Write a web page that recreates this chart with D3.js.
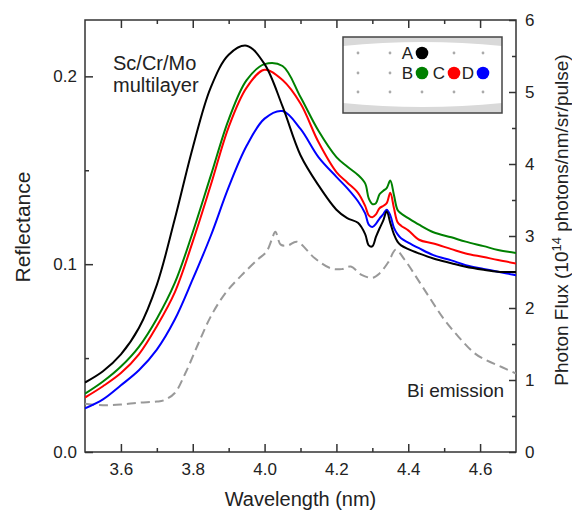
<!DOCTYPE html>
<html>
<head>
<meta charset="utf-8">
<script src="https://cdn.jsdelivr.net/npm/d3@7"></script>
<style>
  body { margin: 0; background: #fff; }
  svg { display: block; font-family: 'Liberation Sans', Arial, sans-serif; }
</style>
</head>
<body>
<div id="d3-container"></div>
<script>
// CONST and GLOBALS
const width = 572,
  height = 511,
  margin = { top: 20, bottom: 59, left: 85, right: 56 };

// DATA
const wavelength = [3.50, 3.55, 3.60, 3.65, 3.70, 3.75, 3.80, 3.85, 3.90, 3.95, 4.00, 4.05, 4.10, 4.15, 4.20,
  4.23, 4.26, 4.28, 4.29, 4.30, 4.31, 4.32, 4.33, 4.34, 4.35, 4.36, 4.37, 4.38, 4.40, 4.43, 4.47, 4.52, 4.56,
  4.61, 4.65, 4.70];

const reflectanceA = [0.037, 0.043, 0.052, 0.066, 0.089, 0.124, 0.162, 0.194, 0.2115, 0.2163, 0.2065, 0.184, 0.158,
  0.142, 0.129, 0.1245, 0.122, 0.116, 0.110, 0.1095, 0.1145, 0.119, 0.123, 0.128, 0.122, 0.116, 0.112, 0.110,
  0.108, 0.1057, 0.103, 0.1005, 0.0986, 0.097, 0.096, 0.0958];

const reflectanceB = [0.031, 0.0375, 0.0455, 0.056, 0.071, 0.090, 0.117, 0.147, 0.177, 0.198, 0.2065, 0.2055,
  0.189, 0.171, 0.157, 0.152, 0.1475, 0.143, 0.135, 0.132, 0.1325, 0.1372, 0.139, 0.1405, 0.1445, 0.137, 0.129,
  0.127, 0.1245, 0.121, 0.117, 0.1143, 0.112, 0.1096, 0.1076, 0.106];

const reflectanceC = [0.029, 0.035, 0.042, 0.052, 0.067, 0.085, 0.112, 0.142, 0.173, 0.194, 0.2035, 0.198,
  0.1855, 0.165, 0.149, 0.1435, 0.138, 0.131, 0.126, 0.125, 0.1265, 0.1298, 0.131, 0.1325, 0.138, 0.130, 0.1225,
  0.1205, 0.118, 0.113, 0.111, 0.108, 0.1057, 0.1038, 0.1022, 0.1004];

const reflectanceD = [0.0232, 0.028, 0.0355, 0.0435, 0.0545, 0.0705, 0.092, 0.115, 0.141, 0.163, 0.1775, 0.1815,
  0.172, 0.157, 0.1465, 0.1405, 0.1335, 0.127, 0.121, 0.1198, 0.1215, 0.1243, 0.1265, 0.129, 0.126, 0.1195,
  0.116, 0.1138, 0.1115, 0.1085, 0.1048, 0.102, 0.0995, 0.0975, 0.096, 0.0941];

const biWavelength = [3.50, 3.55, 3.60, 3.65, 3.70, 3.72, 3.75, 3.78, 3.815, 3.85, 3.89, 3.935, 3.98, 4.005,
  4.02, 4.03, 4.045, 4.065, 4.09, 4.14, 4.185, 4.215, 4.24, 4.27, 4.30, 4.32, 4.345, 4.365, 4.39, 4.43, 4.465,
  4.50, 4.54, 4.585, 4.615, 4.66, 4.70];
const biFlux = [0.67, 0.65, 0.66, 0.685, 0.70, 0.72, 0.82, 1.10, 1.50, 1.88, 2.20, 2.45, 2.67, 2.78, 2.95, 3.06,
  2.88, 2.87, 2.92, 2.69, 2.55, 2.54, 2.575, 2.46, 2.42, 2.48, 2.64, 2.81, 2.67, 2.37, 2.10, 1.84, 1.60, 1.37,
  1.28, 1.18, 1.09];

const sampleLabels = ['A', 'B', 'C', 'D'];
const sampleColors = ['#000000', '#008000', '#ff0000', '#0000ff'];

const reflTicks = [0, 0.1, 0.2];
const reflMinor = [0.05, 0.15];
const fluxTicks = [0, 1, 2, 3, 4, 5, 6];
const fluxMinor = [0.5, 1.5, 2.5, 3.5, 4.5, 5.5];
const wlTicks = [3.6, 3.8, 4.0, 4.2, 4.4, 4.6];
const wlMinor = [3.7, 3.9, 4.1, 4.3, 4.5];

let svg;
let xScale;
let yScale;
let y2Scale;

function init() {
  // SCALES
  xScale = d3.scaleLinear().domain([3.5, 4.7]).range([margin.left, width - margin.right]);
  yScale = d3.scaleLinear().domain([0, 0.23]).range([height - margin.bottom, margin.top]);
  y2Scale = d3.scaleLinear().domain([0, 6]).range([height - margin.bottom, margin.top]);

  svg = d3.select('#d3-container').append('svg').attr('width', width).attr('height', height);

  svg.append('clipPath').attr('id', 'plot-clip')
    .append('rect')
    .attr('x', margin.left).attr('y', margin.top)
    .attr('width', width - margin.left - margin.right)
    .attr('height', height - margin.top - margin.bottom);

  const bottom = height - margin.bottom;
  const right = width - margin.right;

  // AXES (ticks point inwards)
  const axes = [
    [d3.axisBottom(xScale).tickValues(wlTicks).tickSize(-8).tickPadding(11).tickFormat(d3.format('.1f')), `translate(0,${bottom})`],
    [d3.axisBottom(xScale).tickValues(wlMinor).tickSize(-4).tickFormat(''), `translate(0,${bottom})`],
    [d3.axisTop(xScale).tickValues(wlTicks).tickSize(-8).tickFormat(''), `translate(0,${margin.top})`],
    [d3.axisTop(xScale).tickValues(wlMinor).tickSize(-4).tickFormat(''), `translate(0,${margin.top})`],
    [d3.axisLeft(yScale).tickValues(reflTicks).tickSize(-8).tickPadding(8).tickFormat(d3.format('.1f')), `translate(${margin.left},0)`],
    [d3.axisLeft(yScale).tickValues(reflMinor).tickSize(-4).tickFormat(''), `translate(${margin.left},0)`],
    [d3.axisRight(y2Scale).tickValues(fluxTicks).tickSize(-7).tickPadding(9).tickFormat(d3.format('d')), `translate(${right},0)`],
    [d3.axisRight(y2Scale).tickValues(fluxMinor).tickSize(-4).tickFormat(''), `translate(${right},0)`],
  ];
  axes.forEach(([axis, tr]) => {
    const g = svg.append('g').attr('class', 'axis').attr('transform', tr).call(axis);
    g.select('.domain').remove();
    g.selectAll('line').attr('stroke', '#333').attr('stroke-width', 1.5);
    g.selectAll('text').attr('font-size', 17).attr('fill', '#222').attr('font-family', null);
  });

  // frame
  svg.append('rect')
    .attr('x', margin.left).attr('y', margin.top)
    .attr('width', right - margin.left).attr('height', bottom - margin.top)
    .attr('fill', 'none').attr('stroke', '#333').attr('stroke-width', 1.5);

  // axis titles
  svg.append('text')
    .attr('x', (margin.left + right) / 2).attr('y', 506)
    .attr('text-anchor', 'middle').attr('font-size', 20).attr('fill', '#222')
    .text('Wavelength (nm)');

  svg.append('text')
    .attr('transform', 'translate(30,227) rotate(-90)')
    .attr('text-anchor', 'middle').attr('font-size', 21).attr('fill', '#222')
    .text('Reflectance');

  const rt = svg.append('text')
    .attr('transform', 'translate(568,220) rotate(-90)')
    .attr('text-anchor', 'middle').attr('font-size', 19).attr('fill', '#222');
  rt.append('tspan').text('Photon Flux (10');
  rt.append('tspan').attr('dy', -7).attr('font-size', 13).text('14');
  rt.append('tspan').attr('dy', 7).text(' photons/nm/sr/pulse)');

  draw();
}

function draw() {
  const plot = svg.append('g').attr('clip-path', 'url(#plot-clip)');

  const reflLine = d3.line()
    .x(d => xScale(d[0]))
    .y(d => yScale(d[1]))
    .curve(d3.curveCatmullRom.alpha(0.5));

  const fluxLine = d3.line()
    .x(d => xScale(d[0]))
    .y(d => y2Scale(d[1]))
    .curve(d3.curveCatmullRom.alpha(0.5));

  // Bi emission (right axis)
  plot.append('path')
    .datum(d3.zip(biWavelength, biFlux))
    .attr('fill', 'none')
    .attr('stroke', '#999')
    .attr('stroke-width', 2)
    .attr('stroke-dasharray', '9,5')
    .attr('d', fluxLine);

  const series = [reflectanceA, reflectanceB, reflectanceC, reflectanceD];
  // draw D, C, B, A so black sits on top
  [3, 2, 1, 0].forEach(i => {
    plot.append('path')
      .datum(d3.zip(wavelength, series[i]))
      .attr('fill', 'none')
      .attr('stroke', sampleColors[i])
      .attr('stroke-width', 2)
      .attr('d', reflLine);
  });

  // labels inside plot
  svg.append('text').attr('x', 113).attr('y', 70).attr('font-size', 20).attr('fill', '#222').text('Sc/Cr/Mo');
  svg.append('text').attr('x', 113).attr('y', 92).attr('font-size', 20).attr('fill', '#222').text('multilayer');
  svg.append('text').attr('x', 407).attr('y', 397).attr('font-size', 19).attr('fill', '#222').text('Bi emission');

  // LEGEND (sample map)
  const lx = 343, ly = 37, lw = 159, lh = 76;
  const lg = svg.append('g');
  lg.append('rect').attr('x', lx).attr('y', ly).attr('width', lw).attr('height', lh).attr('fill', '#fff');
  lg.append('path')
    .attr('d', `M${lx},${ly}H${lx + lw}V${ly + 9}Q${lx + lw / 2},${ly + 1} ${lx},${ly + 9}Z`)
    .attr('fill', '#d9d9d9');
  lg.append('path')
    .attr('d', `M${lx},${ly + lh}H${lx + lw}V${ly + lh - 10}Q${lx + lw / 2},${ly + lh - 2} ${lx},${ly + lh - 10}Z`)
    .attr('fill', '#d9d9d9');
  lg.append('rect').attr('x', lx).attr('y', ly).attr('width', lw).attr('height', lh)
    .attr('fill', 'none').attr('stroke', '#444').attr('stroke-width', 1.5);

  const cols = [358, 390, 422, 454, 483];
  const rows = [53, 73, 92];
  rows.forEach(ry => cols.forEach(cx => {
    lg.append('circle').attr('cx', cx).attr('cy', ry).attr('r', 1.4).attr('fill', '#aaa');
  }));

  const legendPos = [[2, 0], [2, 1], [3, 1], [4, 1]];
  sampleLabels.forEach((lab, i) => {
    const cx = cols[legendPos[i][0]], cy = rows[legendPos[i][1]];
    lg.append('circle').attr('cx', cx).attr('cy', cy).attr('r', 6.3).attr('fill', sampleColors[i]);
    lg.append('text').attr('x', cx - 9).attr('y', cy + 6).attr('text-anchor', 'end')
      .attr('font-size', 17).attr('fill', '#222').text(lab);
  });
}

init();
</script>
</body>
</html>
